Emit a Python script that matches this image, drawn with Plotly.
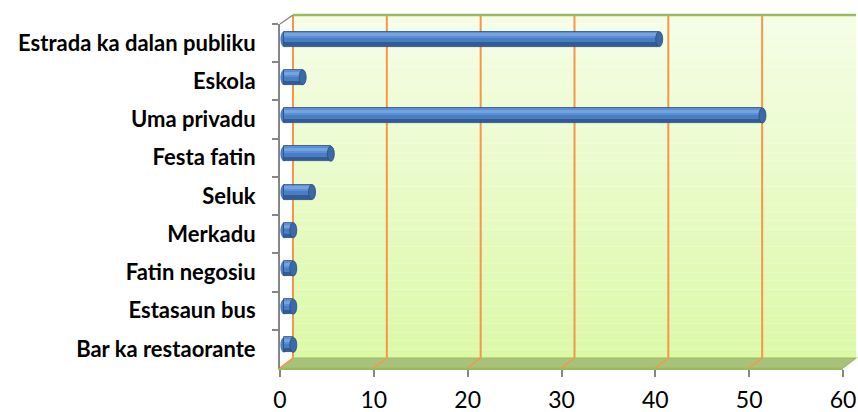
import plotly.graph_objects as go

# ---- data ----
categories = ["Estrada ka dalan publiku", "Eskola", "Uma privadu", "Festa fatin",
              "Seluk", "Merkadu", "Fatin negosiu", "Estasaun bus", "Bar ka restaorante"]
values = [40, 2, 51, 5, 3, 1, 1, 1, 1]
x_ticks = [0, 10, 20, 30, 40, 50, 60]
x_range = [0, 60]

# ---- layout geometry (pixels) ----
W, H = 858, 412
ML, MR, MT, MB = 280, 15, 15, 44
PW, PH = W - ML - MR, H - MT - MB
DX, DY = 13, 10            # 3-D depth offset of back wall
YTOP = 24                  # top of front category axis (px from figure top)
ydom_top = (H - MB - YTOP) / PH
bar_f = 0.3                # bars sit at this fraction of depth
bdx = DX * bar_f
shift_units = bdx / PW * (x_range[1] - x_range[0])

band_px = (H - MB - YTOP) / len(categories)
bar_w = 15 / band_px
bar_s = (DY * bar_f + 1) / band_px

ORANGE = "#F79646"
GREEN = "#9BBB59"
GRAY = "#868686"

fig = go.Figure()

# layered bars giving a cylinder shading
layers = [  # (from top fraction, to top fraction, color)
    (0.0, 1.0, "#315C97"),
    (0.0, 0.72, "#4A7EC3"),
    (0.0, 0.45, "#5B8FD5"),
    (0.12, 0.32, "#75A3E2"),
]
for i, (a, b, col) in enumerate(layers):
    fig.add_trace(go.Bar(
        y=categories, x=values, orientation="h",
        xaxis="x2", yaxis="y",
        width=(b - a) * bar_w,
        offset=-bar_s - bar_w / 2 + a * bar_w,
        marker=dict(color=col,
                    line=dict(color="#2A4C7E" if i == 0 else col, width=0.8 if i == 0 else 0)),
        showlegend=False, hoverinfo="skip",
    ))

shapes = []
# back wall gradient
top_c = (245, 253, 231)
bot_c = (220, 249, 168)
n = 40
y_lo = DY / PH
for k in range(n):
    t = k / (n - 1)
    c = tuple(int(round(bot_c[j] + (top_c[j] - bot_c[j]) * t)) for j in range(3))
    shapes.append(dict(type="rect", xref="paper", yref="paper", layer="below",
                       x0=DX / PW, x1=1 + DX / PW,
                       y0=y_lo + (1 - y_lo) * k / n, y1=y_lo + (1 - y_lo) * (k + 1) / n,
                       fillcolor="rgb(%d,%d,%d)" % c, line=dict(width=0)))
# floor
fx, fy = DX / PW, DY / PH
shapes.append(dict(type="path", xref="paper", yref="paper", layer="below",
                   path=f"M 0 0 L 1 0 L {1+fx} {fy} L {fx} {fy} Z",
                   fillcolor="#A8C27E", line=dict(color=GREEN, width=1.2)))
# gridlines on wall and floor
for v in x_ticks:
    shapes.append(dict(type="line", xref="x", yref="paper", layer="below",
                       xsizemode="pixel", xanchor=v, x0=DX, x1=DX, y0=fy, y1=1,
                       line=dict(color=ORANGE, width=2)))
    shapes.append(dict(type="line", xref="x", yref="paper", layer="below",
                       xsizemode="pixel", xanchor=v, x0=0, x1=DX, y0=0, y1=fy,
                       line=dict(color=ORANGE, width=1.5)))
# top border of wall
shapes.append(dict(type="line", xref="paper", yref="paper", x0=fx, x1=1 + fx, y0=1, y1=1,
                   line=dict(color=GREEN, width=2.5)))
# left top diagonal
shapes.append(dict(type="line", xref="paper", yref="paper", x0=0, x1=fx, y0=ydom_top, y1=1,
                   line=dict(color=GRAY, width=1.5)))

# bar end caps
for i, (c, v) in enumerate(zip(categories, values)):
    y0 = i - bar_s - bar_w / 2
    y1 = i - bar_s + bar_w / 2
    shapes.append(dict(type="circle", xref="x2", yref="y", layer="below",
                       xsizemode="pixel", xanchor=0, x0=-3.5, x1=3.5, y0=y0, y1=y1,
                       fillcolor="#4A7EC3", line=dict(width=0)))
    shapes.append(dict(type="circle", xref="x2", yref="y",
                       xsizemode="pixel", xanchor=v, x0=-3.5, x1=3.5, y0=y0, y1=y1,
                       fillcolor="#3C69A8", line=dict(color="#2A4C7E", width=0.8)))

fig.update_layout(
    width=W, height=H,
    margin=dict(l=ML, r=MR, t=MT, b=MB, pad=0, autoexpand=False),
    paper_bgcolor="white", plot_bgcolor="rgba(0,0,0,0)",
    barmode="overlay", bargap=0,
    shapes=shapes,
    font=dict(family="Lato, Noto Sans, sans-serif", color="black"),
    xaxis=dict(range=x_range, tickvals=x_ticks, showgrid=False, zeroline=False,
               showline=True, linecolor=GREEN, linewidth=1.5,
               ticks="outside", ticklen=7, tickcolor=GRAY, tickwidth=1.5,
               ticklabelstandoff=4, automargin=False,
               tickfont=dict(size=23), fixedrange=True),
    xaxis2=dict(range=[x_range[0] - shift_units, x_range[1] - shift_units],
                overlaying="x", anchor="y", visible=False, fixedrange=True),
    yaxis=dict(domain=[0, ydom_top], categoryorder="array", categoryarray=categories,
               autorange="reversed", showgrid=False, zeroline=False,
               showline=True, linecolor=GRAY, linewidth=2,
               ticks="outside", ticklen=6, tickcolor=GRAY, tickwidth=1.5,
               tickson="boundaries", ticklabelstandoff=18, automargin=False,
               tickfont=dict(size=22, family="Lato, sans-serif", weight="bold"),
               fixedrange=True),
)

fig.write_html("out.html", config={"displayModeBar": False},
               post_script="document.body.style.margin='0';document.body.style.overflow='hidden';")
